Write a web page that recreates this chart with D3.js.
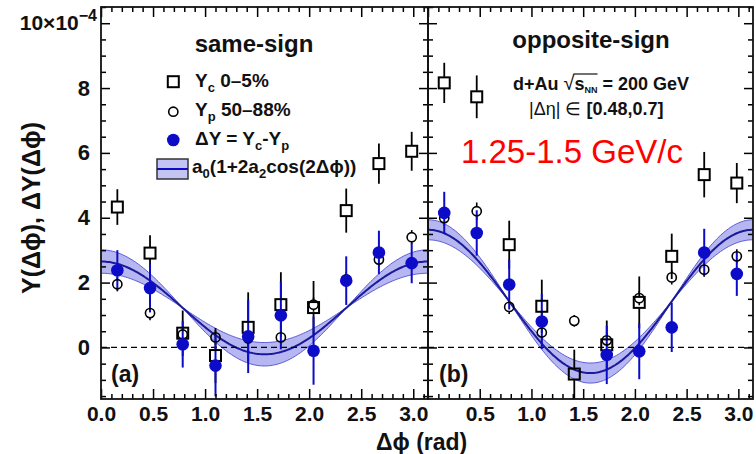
<!DOCTYPE html>
<html>
<head>
<meta charset="utf-8">
<script src="https://cdn.jsdelivr.net/npm/d3@7/dist/d3.min.js"></script>
<style>
  html, body { margin: 0; padding: 0; background: #fff; }
  svg { display: block; }
  text { font-family: "Liberation Sans", Arial, Helvetica, sans-serif; }
</style>
</head>
<body>
<svg id="chart" width="756" height="454"></svg>
<script>
// ---------------- data (values in units of 1e-4) ----------------
const phiBins = [0.157, 0.471, 0.785, 1.100, 1.414, 1.728, 2.042, 2.356, 2.670, 2.985];

const sameYc     = [4.33, 2.91, 0.44, -0.25, 0.62, 1.32, 1.23, 4.22, 5.67, 6.05];
const sameYcErr  = [0.55, 0.55, 0.70, 0.85, 1.08, 1.00, 0.82, 0.68, 0.62, 0.60];
const sameYp     = [1.95, 1.06, 0.40, 0.31, 0.28, 0.31, 1.32, 2.10, 2.71, 3.40];
const sameYpErr  = [0.22, 0.22, 0.22, 0.22, 0.22, 0.22, 0.22, 0.22, 0.22, 0.22];
const sameDY     = [2.38, 1.83, 0.10, -0.56, 0.34, 0.99, -0.10, 2.06, 2.93, 2.60];
const sameDYErr  = [0.62, 0.75, 0.72, 0.95, 1.13, 1.05, 1.05, 0.75, 0.67, 0.62];
const sameFit    = { a0: 1.22, a2: 0.586, a2Err: 0.148 };

const oppYc      = [8.16, 7.73, 3.17, 1.27, -0.82, 0.08, 1.39, 2.81, 5.33, 5.07];
const oppYcErr   = [0.62, 0.66, 0.74, 0.82, 0.75, 0.75, 0.80, 0.70, 0.70, 0.62];
const oppYp      = [3.99, 4.20, 1.25, 0.46, 0.82, 0.22, 1.52, 2.16, 2.40, 2.81];
const oppYpErr   = [0.25, 0.27, 0.22, 0.22, 0.18, 0.22, 0.22, 0.22, 0.22, 0.22];
const oppDY      = [4.15, 3.53, 1.94, 0.80, null, -0.23, -0.12, 0.62, 2.93, 2.27];
const oppDYErr   = [0.65, 0.70, 0.77, 0.85, null, 0.90, 0.86, 0.76, 0.73, 0.68];
const oppFit     = { a0: 1.42, a2: 0.778, a2Err: 0.109 };

const xTicksLeft  = [0.0, 0.5, 1.0, 1.5, 2.0, 2.5, 3.0];
const xTicksRight = [0.5, 1.0, 1.5, 2.0, 2.5, 3.0];
const xMinor      = [0.1,0.2,0.3,0.4,0.6,0.7,0.8,0.9,1.1,1.2,1.3,1.4,1.6,1.7,1.8,1.9,2.1,2.2,2.3,2.4,2.6,2.7,2.8,2.9,3.1];
const yTicks      = [0, 2, 4, 6, 8, 10];
const yMinor      = [-1.5,-1,-0.5,0.5,1,1.5,2.5,3,3.5,4.5,5,5.5,6.5,7,7.5,8.5,9,9.5,10.5];

// ---------------- layout ----------------
const svg = d3.select("#chart");
const PI = Math.PI;
const yScale = d3.scaleLinear().domain([-1.59, 10.5]).range([399, 7]);
const xL = d3.scaleLinear().domain([0, PI]).range([101, 428]);
const xR = d3.scaleLinear().domain([0, PI]).range([428, 753]);

const BLUE = "#0c0cc8";
const BAND = "#b6b6f0";
const FITLINE = "#1a1a9a";

function drawPanel(id, x, Yc, YcErr, Yp, YpErr, DY, DYErr, fit) {
  const g = svg.append("g");
  const [x0, x1] = x.range();
  const [yb, yt] = yScale.range();
  svg.append("clipPath").attr("id", "clip" + id)
    .append("rect").attr("x", x0).attr("y", yt).attr("width", x1 - x0).attr("height", yb - yt);
  const pg = g.append("g").attr("clip-path", `url(#clip${id})`);

  // fit band
  const phis = d3.range(0, PI + 0.001, PI / 200);
  const f = (p, a2) => fit.a0 * (1 + 2 * a2 * Math.cos(2 * p));
  const band = phis.map(p => {
    const u = f(p, fit.a2 + fit.a2Err), l = f(p, fit.a2 - fit.a2Err);
    return { p, lo: Math.min(u, l), hi: Math.max(u, l), c: f(p, fit.a2) };
  });
  pg.append("path").datum(band)
    .attr("d", d3.area().x(d => x(d.p)).y0(d => yScale(d.lo)).y1(d => yScale(d.hi)))
    .attr("fill", BAND).attr("stroke", "none");
  pg.append("path").datum(band).attr("d", d3.line().x(d => x(d.p)).y(d => yScale(d.hi)))
    .attr("fill", "none").attr("stroke", "#5a5ad8").attr("stroke-width", 1);
  pg.append("path").datum(band).attr("d", d3.line().x(d => x(d.p)).y(d => yScale(d.lo)))
    .attr("fill", "none").attr("stroke", "#5a5ad8").attr("stroke-width", 1);
  pg.append("path").datum(band).attr("d", d3.line().x(d => x(d.p)).y(d => yScale(d.c)))
    .attr("fill", "none").attr("stroke", FITLINE).attr("stroke-width", 2);

  // zero dashed line
  pg.append("line").attr("x1", x0).attr("x2", x1)
    .attr("y1", yScale(0)).attr("y2", yScale(0))
    .attr("stroke", "#000").attr("stroke-width", 1.3).attr("stroke-dasharray", "6,4");

  // error bars with gap at marker
  function errBars(vals, errs, gap, color, w) {
    phiBins.forEach((p, i) => {
      if (vals[i] == null) return;
      const cx = x(p), cy = yScale(vals[i]);
      const top = yScale(vals[i] + errs[i]), bot = yScale(vals[i] - errs[i]);
      if (top < cy - gap) pg.append("line").attr("x1", cx).attr("x2", cx).attr("y1", top).attr("y2", cy - gap)
        .attr("stroke", color).attr("stroke-width", w);
      if (bot > cy + gap) pg.append("line").attr("x1", cx).attr("x2", cx).attr("y1", cy + gap).attr("y2", bot)
        .attr("stroke", color).attr("stroke-width", w);
    });
  }
  errBars(Yp, YpErr, 4.7, "#000", 1.6);
  errBars(Yc, YcErr, 6, "#000", 1.8);
  errBars(DY, DYErr, 0, BLUE, 2);

  // Yp open circles
  pg.selectAll(null).data(phiBins.map((p, i) => [p, Yp[i]])).enter().append("circle")
    .attr("cx", d => x(d[0])).attr("cy", d => yScale(d[1])).attr("r", 4.6)
    .attr("fill", "none").attr("stroke", "#000").attr("stroke-width", 1.6);
  // Yc open squares
  pg.selectAll(null).data(phiBins.map((p, i) => [p, Yc[i]])).enter().append("rect")
    .attr("x", d => x(d[0]) - 5.5).attr("y", d => yScale(d[1]) - 5.5)
    .attr("width", 11).attr("height", 11)
    .attr("fill", "none").attr("stroke", "#000").attr("stroke-width", 2);
  // DY filled blue
  pg.selectAll(null).data(phiBins.map((p, i) => [p, DY[i]]).filter(d => d[1] != null)).enter().append("circle")
    .attr("cx", d => x(d[0])).attr("cy", d => yScale(d[1])).attr("r", 6.3)
    .attr("fill", BLUE);

  return g;
}

drawPanel("L", xL, sameYc, sameYcErr, sameYp, sameYpErr, sameDY, sameDYErr, sameFit);
drawPanel("R", xR, oppYc, oppYcErr, oppYp, oppYpErr, oppDY, oppDYErr, oppFit);

// ---------------- axes ----------------
function styleAxis(sel, size) {
  sel.select(".domain").remove();
  sel.selectAll(".tick line").attr("stroke", "#000").attr("stroke-width", 1.5);
  sel.selectAll(".tick text").attr("font-family", '"Liberation Sans", Arial, sans-serif')
    .attr("font-weight", "bold").attr("font-size", size).attr("fill", "#111");
}
const ax = svg.append("g");
const yb = yScale.range()[0], yt = yScale.range()[1];

// left panel bottom
ax.append("g").attr("transform", `translate(0,${yb})`)
  .call(d3.axisBottom(xL).tickValues(xTicksLeft).tickSize(-10).tickPadding(7).tickFormat(d3.format(".1f")))
  .call(s => styleAxis(s, 21));
ax.append("g").attr("transform", `translate(0,${yb})`)
  .call(d3.axisBottom(xL).tickValues(xMinor).tickSize(-5).tickFormat(""))
  .call(s => styleAxis(s, 21));
// right panel bottom
ax.append("g").attr("transform", `translate(0,${yb})`)
  .call(d3.axisBottom(xR).tickValues(xTicksRight).tickSize(-10).tickPadding(7).tickFormat(d3.format(".1f")))
  .call(s => styleAxis(s, 21));
ax.append("g").attr("transform", `translate(0,${yb})`)
  .call(d3.axisBottom(xR).tickValues(xMinor).tickSize(-5).tickFormat(""))
  .call(s => styleAxis(s, 21));
// tops
[xL, xR].forEach(xs => {
  ax.append("g").attr("transform", `translate(0,${yt})`)
    .call(d3.axisTop(xs).tickValues(xTicksLeft).tickSize(-10).tickFormat("")).call(s => styleAxis(s, 21));
  ax.append("g").attr("transform", `translate(0,${yt})`)
    .call(d3.axisTop(xs).tickValues(xMinor).tickSize(-5).tickFormat("")).call(s => styleAxis(s, 21));
});
// left y axis with labels
ax.append("g").attr("transform", `translate(${xL.range()[0]},0)`)
  .call(d3.axisLeft(yScale).tickValues(yTicks).tickSize(-9).tickPadding(11).tickFormat(d => d === 10 ? "" : d))
  .call(s => styleAxis(s, 22));
ax.append("g").attr("transform", `translate(${xL.range()[0]},0)`)
  .call(d3.axisLeft(yScale).tickValues(yMinor).tickSize(-5).tickFormat(""))
  .call(s => styleAxis(s, 22));
// inner vertical axes (right of left panel, left of right panel, right of right panel)
[[xL.range()[1], "R"], [xR.range()[0], "L"], [xR.range()[1], "R"]].forEach(([xp, side]) => {
  const mk = side === "R" ? d3.axisRight : d3.axisLeft;
  ax.append("g").attr("transform", `translate(${xp},0)`)
    .call(mk(yScale).tickValues(yTicks).tickSize(-9).tickFormat("")).call(s => styleAxis(s, 22));
  ax.append("g").attr("transform", `translate(${xp},0)`)
    .call(mk(yScale).tickValues(yMinor).tickSize(-5).tickFormat("")).call(s => styleAxis(s, 22));
});
// frames
[xL, xR].forEach(xs => {
  ax.append("rect").attr("x", xs.range()[0]).attr("y", yt)
    .attr("width", xs.range()[1] - xs.range()[0]).attr("height", yb - yt)
    .attr("fill", "none").attr("stroke", "#111").attr("stroke-width", 1.8);
});

// 10x10^-4 label
const t10 = svg.append("text").attr("x", 97).attr("y", yScale(10) + 7)
  .attr("text-anchor", "end").attr("font-weight", "bold").attr("font-size", 21).attr("fill", "#111");
t10.append("tspan").text("10×10");
t10.append("tspan").attr("font-size", 16).attr("dy", -9).text("−4");

// axis titles
svg.append("text").attr("transform", "translate(40,208) rotate(-90)")
  .attr("text-anchor", "middle").attr("font-weight", "bold").attr("font-size", 25).attr("fill", "#111")
  .text("Y(Δϕ), ΔY(Δϕ)");
svg.append("text").attr("x", 376).attr("y", 450)
  .attr("font-weight", "bold").attr("font-size", 23).attr("fill", "#111")
  .text("Δϕ (rad)");

// panel labels
svg.append("text").attr("x", 111).attr("y", 382).attr("font-weight", "bold").attr("font-size", 23).attr("fill", "#111").text("(a)");
svg.append("text").attr("x", 439).attr("y", 382).attr("font-weight", "bold").attr("font-size", 23).attr("fill", "#111").text("(b)");

// panel headers
svg.append("text").attr("x", 254).attr("y", 52).attr("text-anchor", "middle")
  .attr("font-weight", "bold").attr("font-size", 24).attr("fill", "#111").text("same-sign");
svg.append("text").attr("x", 591).attr("y", 48).attr("text-anchor", "middle")
  .attr("font-weight", "bold").attr("font-size", 24).attr("fill", "#111").text("opposite-sign");

// legend
const lg = svg.append("g");
const LX = 173.3;
lg.append("rect").attr("x", LX - 5.5).attr("y", 81.7 - 5.5).attr("width", 11).attr("height", 11)
  .attr("fill", "none").attr("stroke", "#000").attr("stroke-width", 2);
lg.append("circle").attr("cx", LX).attr("cy", 111.7).attr("r", 4.6)
  .attr("fill", "none").attr("stroke", "#000").attr("stroke-width", 1.6);
lg.append("circle").attr("cx", LX).attr("cy", 140).attr("r", 6.3).attr("fill", BLUE);
lg.append("rect").attr("x", 157).attr("y", 159).attr("width", 31).attr("height", 20)
  .attr("fill", "#c4c4f4").attr("stroke", "#333").attr("stroke-width", 1.5);
lg.append("line").attr("x1", 157).attr("x2", 188).attr("y1", 169).attr("y2", 169)
  .attr("stroke", BLUE).attr("stroke-width", 2);

function legText(y, parts) {
  const t = lg.append("text").attr("x", 195).attr("y", y)
    .attr("font-weight", "bold").attr("font-size", 19).attr("fill", "#111");
  let shift = 0;
  parts.forEach(([s, sub]) => {
    const ts = t.append("tspan").text(s);
    const want = sub ? 5 : 0;
    if (want !== shift) { ts.attr("dy", want - shift); shift = want; }
    if (sub) ts.attr("font-size", 13);
  });
  return t;
}
legText(87, [["Y", 0], ["c", 1], [" 0–5%", 0]]);
legText(116, [["Y", 0], ["p", 1], [" 50–88%", 0]]);
legText(145, [["ΔY = Y", 0], ["c", 1], ["-Y", 0], ["p", 1]]);
legText(173, [["a", 0], ["0", 1], ["(1+2a", 0], ["2", 1], ["cos(2Δϕ))", 0]]).attr("x", 192);

// right panel annotations
const tEn = svg.append("text").attr("x", 513).attr("y", 90)
  .attr("font-weight", "bold").attr("font-size", 18).attr("fill", "#111");
tEn.append("tspan").text("d+Au ");
tEn.append("tspan").attr("font-weight", "normal").attr("font-size", 20).text("√");
tEn.append("tspan").text("s");
tEn.append("tspan").attr("font-size", 9).attr("dy", 3).text("NN");
tEn.append("tspan").attr("dy", -3).text(" = 200 GeV");
// overline of the square root
(function () {
  const node = tEn.node();
  const full = node.textContent;
  const iRoot = full.indexOf("√");
  const iEnd = full.indexOf("NN") + 1;
  const e1 = node.getExtentOfChar(iRoot), e2 = node.getExtentOfChar(iEnd);
  svg.append("line").attr("x1", e1.x + e1.width - 1).attr("x2", e2.x + e2.width)
    .attr("y1", 74).attr("y2", 74).attr("stroke", "#111").attr("stroke-width", 1.2);
})();

const tEta = svg.append("text").attr("x", 529).attr("y", 115)
  .attr("font-size", 18).attr("fill", "#111");
tEta.append("tspan").text("|Δη| ∈ ");
tEta.append("tspan").attr("font-weight", "bold").text("[0.48,0.7]");

svg.append("text").attr("x", 461).attr("y", 163)
  .attr("font-family", "Lato, 'Open Sans', sans-serif").attr("font-size", 33).attr("fill", "#ff0000")
  .text("1.25-1.5 GeV/c");
</script>
</body>
</html>
